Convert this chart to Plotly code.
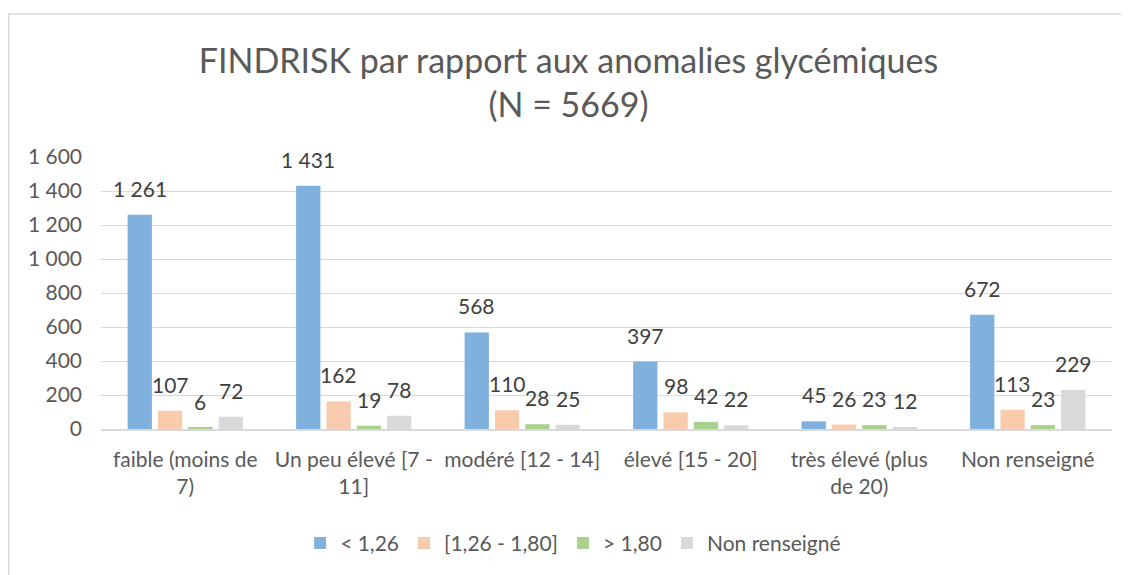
import plotly.graph_objects as go

categories = [
    "faible (moins de<br>7)",
    "Un peu élevé [7 -<br>11]",
    "modéré [12 - 14]",
    "élevé [15 - 20]",
    "très élevé (plus<br>de 20)",
    "Non renseigné",
]
series_names = ["< 1,26", "[1,26 - 1,80]", "> 1,80", "Non renseigné"]
vals_lt_126 = [1261, 1431, 568, 397, 45, 672]
vals_126_180 = [107, 162, 110, 98, 26, 113]
vals_gt_180 = [6, 19, 28, 42, 23, 23]
vals_nr = [72, 78, 25, 22, 12, 229]
colors = ["#7FB0DE", "#F8CBAD", "#A9D18E", "#D9D9D9"]

series_values = [vals_lt_126, vals_126_180, vals_gt_180, vals_nr]

FONT = "Lato, Carlito, Calibri, sans-serif"
BARGAP = 0.28
GROUPGAP = 0.2

# the page body has an 8px default margin: figure is sized to fit the window
W, H = 1121, 567
L, R, T, B = 93, 17, 149, 146
PH = H - T - B
PW = W - L - R

fig = go.Figure()
for name, vals, col in zip(series_names, series_values, colors):
    fig.add_trace(go.Bar(
        x=list(range(len(categories))), y=vals, name=name,
        marker=dict(color=col, line=dict(width=0)),
        hoverinfo="skip",
    ))

annotations = []
n = len(series_values)
for i, vals in enumerate(series_values):
    for j, v in enumerate(vals):
        off = (i - (n - 1) / 2) * (1 - BARGAP) / n
        annotations.append(dict(
            x=j + off, y=v, xref="x", yref="y",
            text=f"{v:,}".replace(",", " "),
            showarrow=False, yanchor="bottom", yshift=12,
            font=dict(family=FONT, size=21, color="#404040"),
        ))

fig.update_layout(
    width=W, height=H,
    margin=dict(l=L, r=R, t=T, b=B, autoexpand=False),
    paper_bgcolor="white", plot_bgcolor="white",
    separators=", ",
    barmode="group", bargap=BARGAP, bargroupgap=GROUPGAP,
    title=dict(
        text="FINDRISK par rapport aux anomalies glycémiques<br>(N = 5669)",
        x=0.5, xanchor="center", y=1 - 65 / H, yanchor="middle",
        font=dict(family=FONT, size=34, color="#595959"),
    ),
    font=dict(family=FONT, size=20, color="#595959"),
    showlegend=True,
    legend=dict(
        orientation="h", x=0.467, xanchor="center", y=-0.42, yanchor="middle",
        font=dict(family=FONT, size=21, color="#595959"),
        itemwidth=30, traceorder="normal",
    ),
    annotations=annotations,
    shapes=[dict(
        type="rect", xref="paper", yref="paper",
        x0=(0.75 - L) / PW, x1=1.2, y0=-1.0, y1=(T + PH - 6) / PH,
        line=dict(color="#D9D9D9", width=1.5), fillcolor="rgba(0,0,0,0)", layer="below",
    )],
)
fig.update_xaxes(
    tickmode="array", tickvals=list(range(len(categories))), ticktext=categories,
    range=[-0.5, len(categories) - 0.5],
    showgrid=False, showline=True, linecolor="#D9D9D9", linewidth=1.5,
    ticks="", ticklabelstandoff=11,
    tickfont=dict(family=FONT, size=21, color="#595959"),
)
fig.update_yaxes(
    range=[0, 1600], dtick=200, tick0=0,
    showgrid=True, gridcolor="#D9D9D9", gridwidth=1.2,
    zeroline=False, showline=False, ticks="",
    separatethousands=True, ticklabelstandoff=18,
    tickfont=dict(family=FONT, size=21, color="#595959"),
)

fig.write_html("out.html")
